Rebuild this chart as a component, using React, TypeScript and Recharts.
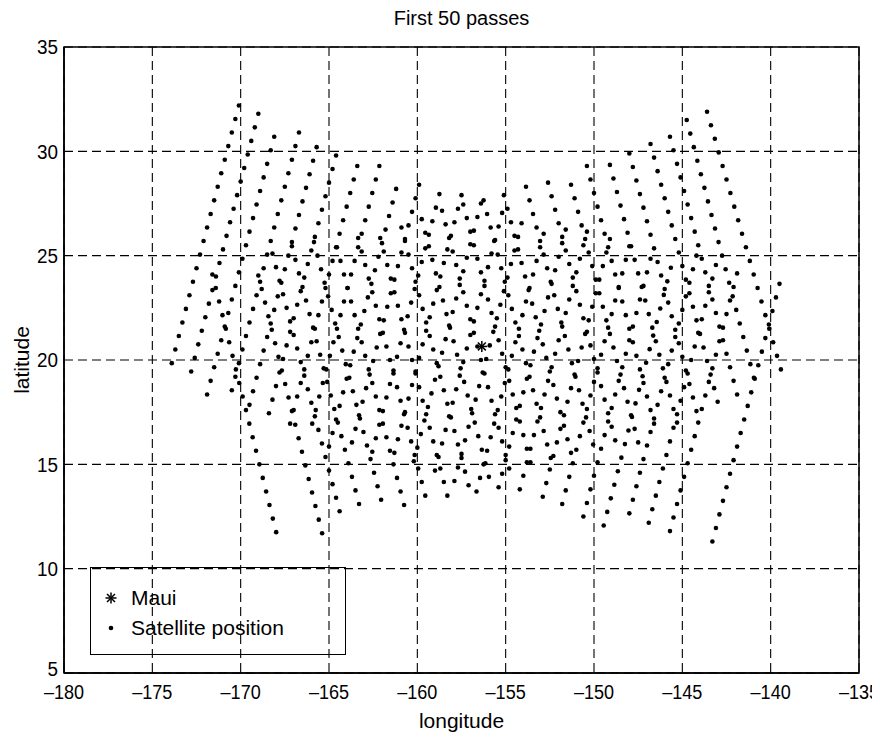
import { ScatterChart, Scatter, XAxis, YAxis, CartesianGrid, ReferenceArea } from 'recharts';

// Axis ticks
const xTicks = [-180, -175, -170, -165, -160, -155, -150, -145, -140, -135];
const yTicks = [5, 10, 15, 20, 25, 30, 35];

// Observer location
const maui = [{ lon: -156.35, lat: 20.65 }];

// Each pass: [longitudes, latitudes]
type Pass = [number[], number[]];

// Ascending passes ("/" tracks), listed from the top end down
const ascendingPasses: Pass[] = [
  [[-170.1, -170.3, -170.5, -170.7, -170.9, -171.1, -171.3, -171.5, -171.7, -171.9, -172.1, -172.3, -172.5, -172.7, -172.9, -173.1, -173.3, -173.5, -173.7, -173.9],
   [32.2, 31.55, 30.9, 30.25, 29.6, 28.95, 28.3, 27.65, 27.0, 26.35, 25.7, 25.05, 24.4, 23.75, 23.1, 22.45, 21.8, 21.15, 20.5, 19.85]],
  [[-169.0, -169.2, -169.4, -169.6, -169.8, -170.0, -170.2, -170.4, -170.6, -170.8, -171.0, -171.2, -171.4, -171.6, -171.8, -172.0, -172.2, -172.4, -172.6, -172.8],
   [31.8, 31.15, 30.5, 29.85, 29.2, 28.55, 27.9, 27.25, 26.6, 25.95, 25.3, 24.65, 24.0, 23.35, 22.7, 22.05, 21.4, 20.75, 20.1, 19.45]],
  [[-168.1, -168.3, -168.5, -168.7, -168.9, -169.1, -169.3, -169.5, -169.7, -169.9, -170.1, -170.3, -170.5, -170.7, -170.9, -171.1, -171.3, -171.5, -171.7, -171.9],
   [30.7, 30.05, 29.4, 28.75, 28.1, 27.45, 26.8, 26.15, 25.5, 24.85, 24.2, 23.55, 22.9, 22.25, 21.6, 20.95, 20.3, 19.65, 19.0, 18.35]],
  [[-166.7, -166.9, -167.1, -167.3, -167.5, -167.7, -167.9, -168.1, -168.3, -168.5, -168.7, -168.9, -169.1, -169.3, -169.5, -169.7, -169.9, -170.1, -170.3, -170.5],
   [30.9, 30.25, 29.6, 28.95, 28.3, 27.65, 27.0, 26.35, 25.7, 25.05, 24.4, 23.75, 23.1, 22.45, 21.8, 21.15, 20.5, 19.85, 19.2, 18.55]],
  [[-165.7, -165.9, -166.1, -166.3, -166.5, -166.7, -166.9, -167.1, -167.3, -167.5, -167.7, -167.9, -168.1, -168.3, -168.5, -168.7, -168.9, -169.1, -169.3, -169.5],
   [30.2, 29.55, 28.9, 28.25, 27.6, 26.95, 26.3, 25.65, 25.0, 24.35, 23.7, 23.05, 22.4, 21.75, 21.1, 20.45, 19.8, 19.15, 18.5, 17.85]],
  [[-164.6, -164.8, -165.0, -165.2, -165.4, -165.6, -165.8, -166.0, -166.2, -166.4, -166.6, -166.8, -167.0, -167.2, -167.4, -167.6, -167.8, -168.0, -168.2, -168.4],
   [29.8, 29.15, 28.5, 27.85, 27.2, 26.55, 25.9, 25.25, 24.6, 23.95, 23.3, 22.65, 22.0, 21.35, 20.7, 20.05, 19.4, 18.75, 18.1, 17.45]],
  [[-163.4, -163.6, -163.8, -164.0, -164.2, -164.4, -164.6, -164.8, -165.0, -165.2, -165.4, -165.6, -165.8, -166.0, -166.2, -166.4, -166.6, -166.8, -167.0, -167.2],
   [29.3, 28.65, 28.0, 27.35, 26.7, 26.05, 25.4, 24.75, 24.1, 23.45, 22.8, 22.15, 21.5, 20.85, 20.2, 19.55, 18.9, 18.25, 17.6, 16.95]],
  [[-162.15, -162.35, -162.55, -162.75, -162.95, -163.15, -163.35, -163.55, -163.75, -163.95, -164.15, -164.35, -164.55, -164.75, -164.95, -165.15, -165.35, -165.55, -165.75, -165.95],
   [29.3, 28.65, 28.0, 27.35, 26.7, 26.05, 25.4, 24.75, 24.1, 23.45, 22.8, 22.15, 21.5, 20.85, 20.2, 19.55, 18.9, 18.25, 17.6, 16.95]],
  [[-161.2, -161.4, -161.6, -161.8, -162.0, -162.2, -162.4, -162.6, -162.8, -163.0, -163.2, -163.4, -163.6, -163.8, -164.0, -164.2, -164.4, -164.6, -164.8, -165.0],
   [28.2, 27.55, 26.9, 26.25, 25.6, 24.95, 24.3, 23.65, 23.0, 22.35, 21.7, 21.05, 20.4, 19.75, 19.1, 18.45, 17.8, 17.15, 16.5, 15.85]],
  [[-159.9, -160.1, -160.3, -160.5, -160.7, -160.9, -161.1, -161.3, -161.5, -161.7, -161.9, -162.1, -162.3, -162.5, -162.7, -162.9, -163.1, -163.3, -163.5, -163.7],
   [28.4, 27.75, 27.1, 26.45, 25.8, 25.15, 24.5, 23.85, 23.2, 22.55, 21.9, 21.25, 20.6, 19.95, 19.3, 18.65, 18.0, 17.35, 16.7, 16.05]],
  [[-158.75, -158.95, -159.15, -159.35, -159.55, -159.75, -159.95, -160.15, -160.35, -160.55, -160.75, -160.95, -161.15, -161.35, -161.55, -161.75, -161.95, -162.15, -162.35, -162.55],
   [27.95, 27.3, 26.65, 26.0, 25.35, 24.7, 24.05, 23.4, 22.75, 22.1, 21.45, 20.8, 20.15, 19.5, 18.85, 18.2, 17.55, 16.9, 16.25, 15.6]],
  [[-157.5, -157.7, -157.9, -158.1, -158.3, -158.5, -158.7, -158.9, -159.1, -159.3, -159.5, -159.7, -159.9, -160.1, -160.3, -160.5, -160.7, -160.9, -161.1, -161.3],
   [27.9, 27.25, 26.6, 25.95, 25.3, 24.65, 24.0, 23.35, 22.7, 22.05, 21.4, 20.75, 20.1, 19.45, 18.8, 18.15, 17.5, 16.85, 16.2, 15.55]],
  [[-156.4, -156.6, -156.8, -157.0, -157.2, -157.4, -157.6, -157.8, -158.0, -158.2, -158.4, -158.6, -158.8, -159.0, -159.2, -159.4, -159.6, -159.8, -160.0, -160.2],
   [27.5, 26.85, 26.2, 25.55, 24.9, 24.25, 23.6, 22.95, 22.3, 21.65, 21.0, 20.35, 19.7, 19.05, 18.4, 17.75, 17.1, 16.45, 15.8, 15.15]],
  [[-155.2, -155.4, -155.6, -155.8, -156.0, -156.2, -156.4, -156.6, -156.8, -157.0, -157.2, -157.4, -157.6, -157.8, -158.0, -158.2, -158.4, -158.6, -158.8, -159.0],
   [27.05, 26.4, 25.75, 25.1, 24.45, 23.8, 23.15, 22.5, 21.85, 21.2, 20.55, 19.9, 19.25, 18.6, 17.95, 17.3, 16.65, 16.0, 15.35, 14.7]],
  [[-154.1, -154.3, -154.5, -154.7, -154.9, -155.1, -155.3, -155.5, -155.7, -155.9, -156.1, -156.3, -156.5, -156.7, -156.9, -157.1, -157.3, -157.5, -157.7, -157.9],
   [26.55, 25.9, 25.25, 24.6, 23.95, 23.3, 22.65, 22.0, 21.35, 20.7, 20.05, 19.4, 18.75, 18.1, 17.45, 16.8, 16.15, 15.5, 14.85, 14.2]],
  [[-152.85, -153.05, -153.25, -153.45, -153.65, -153.85, -154.05, -154.25, -154.45, -154.65, -154.85, -155.05, -155.25, -155.45, -155.65, -155.85, -156.05, -156.25, -156.45, -156.65],
   [26.05, 25.4, 24.75, 24.1, 23.45, 22.8, 22.15, 21.5, 20.85, 20.2, 19.55, 18.9, 18.25, 17.6, 16.95, 16.3, 15.65, 15.0, 14.35, 13.7]],
  [[-151.6, -151.8, -152.0, -152.2, -152.4, -152.6, -152.8, -153.0, -153.2, -153.4, -153.6, -153.8, -154.0, -154.2, -154.4, -154.6, -154.8, -155.0, -155.2, -155.4],
   [26.25, 25.6, 24.95, 24.3, 23.65, 23.0, 22.35, 21.7, 21.05, 20.4, 19.75, 19.1, 18.45, 17.8, 17.15, 16.5, 15.85, 15.2, 14.55, 13.9]],
  [[-150.4, -150.6, -150.8, -151.0, -151.2, -151.4, -151.6, -151.8, -152.0, -152.2, -152.4, -152.6, -152.8, -153.0, -153.2, -153.4, -153.6, -153.8, -154.0, -154.2],
   [26.15, 25.5, 24.85, 24.2, 23.55, 22.9, 22.25, 21.6, 20.95, 20.3, 19.65, 19.0, 18.35, 17.7, 17.05, 16.4, 15.75, 15.1, 14.45, 13.8]],
  [[-149.1, -149.3, -149.5, -149.7, -149.9, -150.1, -150.3, -150.5, -150.7, -150.9, -151.1, -151.3, -151.5, -151.7, -151.9, -152.1, -152.3, -152.5, -152.7, -152.9],
   [25.8, 25.15, 24.5, 23.85, 23.2, 22.55, 21.9, 21.25, 20.6, 19.95, 19.3, 18.65, 18.0, 17.35, 16.7, 16.05, 15.4, 14.75, 14.1, 13.45]],
  [[-148.0, -148.2, -148.4, -148.6, -148.8, -149.0, -149.2, -149.4, -149.6, -149.8, -150.0, -150.2, -150.4, -150.6, -150.8, -151.0, -151.2, -151.4, -151.6, -151.8],
   [25.45, 24.8, 24.15, 23.5, 22.85, 22.2, 21.55, 20.9, 20.25, 19.6, 18.95, 18.3, 17.65, 17.0, 16.35, 15.7, 15.05, 14.4, 13.75, 13.1]],
  [[-146.8, -147.0, -147.2, -147.4, -147.6, -147.8, -148.0, -148.2, -148.4, -148.6, -148.8, -149.0, -149.2, -149.4, -149.6, -149.8, -150.0, -150.2, -150.4, -150.6],
   [24.85, 24.2, 23.55, 22.9, 22.25, 21.6, 20.95, 20.3, 19.65, 19.0, 18.35, 17.7, 17.05, 16.4, 15.75, 15.1, 14.45, 13.8, 13.15, 12.5]],
  [[-145.65, -145.85, -146.05, -146.25, -146.45, -146.65, -146.85, -147.05, -147.25, -147.45, -147.65, -147.85, -148.05, -148.25, -148.45, -148.65, -148.85, -149.05, -149.25, -149.45],
   [24.42, 23.77, 23.12, 22.47, 21.82, 21.17, 20.52, 19.87, 19.22, 18.57, 17.92, 17.27, 16.62, 15.97, 15.32, 14.67, 14.02, 13.37, 12.72, 12.07]],
  [[-144.2, -144.4, -144.6, -144.8, -145.0, -145.2, -145.4, -145.6, -145.8, -146.0, -146.2, -146.4, -146.6, -146.8, -147.0, -147.2, -147.4, -147.6, -147.8, -148.0],
   [25.0, 24.35, 23.7, 23.05, 22.4, 21.75, 21.1, 20.45, 19.8, 19.15, 18.5, 17.85, 17.2, 16.55, 15.9, 15.25, 14.6, 13.95, 13.3, 12.65]],
  [[-143.1, -143.3, -143.5, -143.7, -143.9, -144.1, -144.3, -144.5, -144.7, -144.9, -145.1, -145.3, -145.5, -145.7, -145.9, -146.1, -146.3, -146.5, -146.7, -146.9],
   [24.55, 23.9, 23.25, 22.6, 21.95, 21.3, 20.65, 20.0, 19.35, 18.7, 18.05, 17.4, 16.75, 16.1, 15.45, 14.8, 14.15, 13.5, 12.85, 12.2]],
  [[-141.9, -142.1, -142.3, -142.5, -142.7, -142.9, -143.1, -143.3, -143.5, -143.7, -143.9, -144.1, -144.3, -144.5, -144.7, -144.9, -145.1, -145.3, -145.5, -145.7],
   [24.15, 23.5, 22.85, 22.2, 21.55, 20.9, 20.25, 19.6, 18.95, 18.3, 17.65, 17.0, 16.35, 15.7, 15.05, 14.4, 13.75, 13.1, 12.45, 11.8]],
  [[-139.5, -139.7, -139.9, -140.1, -140.3, -140.5, -140.7, -140.9, -141.1, -141.3, -141.5, -141.7, -141.9, -142.1, -142.3, -142.5, -142.7, -142.9, -143.1, -143.3],
   [23.65, 23.0, 22.35, 21.7, 21.05, 20.4, 19.75, 19.1, 18.45, 17.8, 17.15, 16.5, 15.85, 15.2, 14.55, 13.9, 13.25, 12.6, 11.95, 11.3]],
];

// Descending passes ("\" tracks), listed from the top end down
const descendingPasses: Pass[] = [
  [[-143.6, -143.38, -143.16, -142.94, -142.72, -142.5, -142.28, -142.06, -141.84, -141.62, -141.4, -141.18, -140.96, -140.74, -140.52, -140.3, -140.08, -139.86, -139.64, -139.42],
   [31.9, 31.25, 30.6, 29.95, 29.3, 28.65, 28.0, 27.35, 26.7, 26.05, 25.4, 24.75, 24.1, 23.45, 22.8, 22.15, 21.5, 20.85, 20.2, 19.55]],
  [[-144.75, -144.55, -144.35, -144.15, -143.95, -143.75, -143.55, -143.35, -143.15, -142.95, -142.75, -142.55, -142.35, -142.15, -141.95, -141.75, -141.55, -141.35, -141.15, -140.95],
   [31.5, 30.85, 30.2, 29.55, 28.9, 28.25, 27.6, 26.95, 26.3, 25.65, 25.0, 24.35, 23.7, 23.05, 22.4, 21.75, 21.1, 20.45, 19.8, 19.15]],
  [[-145.7, -145.5, -145.3, -145.1, -144.9, -144.7, -144.5, -144.3, -144.1, -143.9, -143.7, -143.5, -143.3, -143.1, -142.9, -142.7, -142.5, -142.3, -142.1, -141.9],
   [30.7, 30.05, 29.4, 28.75, 28.1, 27.45, 26.8, 26.15, 25.5, 24.85, 24.2, 23.55, 22.9, 22.25, 21.6, 20.95, 20.3, 19.65, 19.0, 18.35]],
  [[-146.8, -146.6, -146.4, -146.2, -146.0, -145.8, -145.6, -145.4, -145.2, -145.0, -144.8, -144.6, -144.4, -144.2, -144.0, -143.8, -143.6, -143.4, -143.2, -143.0],
   [30.35, 29.7, 29.05, 28.4, 27.75, 27.1, 26.45, 25.8, 25.15, 24.5, 23.85, 23.2, 22.55, 21.9, 21.25, 20.6, 19.95, 19.3, 18.65, 18.0]],
  [[-148.0, -147.8, -147.6, -147.4, -147.2, -147.0, -146.8, -146.6, -146.4, -146.2, -146.0, -145.8, -145.6, -145.4, -145.2, -145.0, -144.8, -144.6, -144.4, -144.2],
   [29.9, 29.25, 28.6, 27.95, 27.3, 26.65, 26.0, 25.35, 24.7, 24.05, 23.4, 22.75, 22.1, 21.45, 20.8, 20.15, 19.5, 18.85, 18.2, 17.55]],
  [[-149.1, -148.9, -148.7, -148.5, -148.3, -148.1, -147.9, -147.7, -147.5, -147.3, -147.1, -146.9, -146.7, -146.5, -146.3, -146.1, -145.9, -145.7, -145.5, -145.3],
   [29.35, 28.7, 28.05, 27.4, 26.75, 26.1, 25.45, 24.8, 24.15, 23.5, 22.85, 22.2, 21.55, 20.9, 20.25, 19.6, 18.95, 18.3, 17.65, 17.0]],
  [[-150.4, -150.2, -150.0, -149.8, -149.6, -149.4, -149.2, -149.0, -148.8, -148.6, -148.4, -148.2, -148.0, -147.8, -147.6, -147.4, -147.2, -147.0, -146.8, -146.6],
   [29.3, 28.65, 28.0, 27.35, 26.7, 26.05, 25.4, 24.75, 24.1, 23.45, 22.8, 22.15, 21.5, 20.85, 20.2, 19.55, 18.9, 18.25, 17.6, 16.95]],
  [[-151.3, -151.1, -150.9, -150.7, -150.5, -150.3, -150.1, -149.9, -149.7, -149.5, -149.3, -149.1, -148.9, -148.7, -148.5, -148.3, -148.1, -147.9, -147.7, -147.5],
   [28.4, 27.75, 27.1, 26.45, 25.8, 25.15, 24.5, 23.85, 23.2, 22.55, 21.9, 21.25, 20.6, 19.95, 19.3, 18.65, 18.0, 17.35, 16.7, 16.05]],
  [[-152.6, -152.4, -152.2, -152.0, -151.8, -151.6, -151.4, -151.2, -151.0, -150.8, -150.6, -150.4, -150.2, -150.0, -149.8, -149.6, -149.4, -149.2, -149.0, -148.8],
   [28.5, 27.85, 27.2, 26.55, 25.9, 25.25, 24.6, 23.95, 23.3, 22.65, 22.0, 21.35, 20.7, 20.05, 19.4, 18.75, 18.1, 17.45, 16.8, 16.15]],
  [[-153.85, -153.65, -153.45, -153.25, -153.05, -152.85, -152.65, -152.45, -152.25, -152.05, -151.85, -151.65, -151.45, -151.25, -151.05, -150.85, -150.65, -150.45, -150.25, -150.05],
   [28.3, 27.65, 27.0, 26.35, 25.7, 25.05, 24.4, 23.75, 23.1, 22.45, 21.8, 21.15, 20.5, 19.85, 19.2, 18.55, 17.9, 17.25, 16.6, 15.95]],
  [[-155.1, -154.9, -154.7, -154.5, -154.3, -154.1, -153.9, -153.7, -153.5, -153.3, -153.1, -152.9, -152.7, -152.5, -152.3, -152.1, -151.9, -151.7, -151.5, -151.3],
   [27.9, 27.25, 26.6, 25.95, 25.3, 24.65, 24.0, 23.35, 22.7, 22.05, 21.4, 20.75, 20.1, 19.45, 18.8, 18.15, 17.5, 16.85, 16.2, 15.55]],
  [[-156.25, -156.05, -155.85, -155.65, -155.45, -155.25, -155.05, -154.85, -154.65, -154.45, -154.25, -154.05, -153.85, -153.65, -153.45, -153.25, -153.05, -152.85, -152.65, -152.45],
   [27.65, 27.0, 26.35, 25.7, 25.05, 24.4, 23.75, 23.1, 22.45, 21.8, 21.15, 20.5, 19.85, 19.2, 18.55, 17.9, 17.25, 16.6, 15.95, 15.3]],
  [[-157.4, -157.2, -157.0, -156.8, -156.6, -156.4, -156.2, -156.0, -155.8, -155.6, -155.4, -155.2, -155.0, -154.8, -154.6, -154.4, -154.2, -154.0, -153.8, -153.6],
   [27.45, 26.8, 26.15, 25.5, 24.85, 24.2, 23.55, 22.9, 22.25, 21.6, 20.95, 20.3, 19.65, 19.0, 18.35, 17.7, 17.05, 16.4, 15.75, 15.1]],
  [[-158.6, -158.4, -158.2, -158.0, -157.8, -157.6, -157.4, -157.2, -157.0, -156.8, -156.6, -156.4, -156.2, -156.0, -155.8, -155.6, -155.4, -155.2, -155.0, -154.8],
   [27.15, 26.5, 25.85, 25.2, 24.55, 23.9, 23.25, 22.6, 21.95, 21.3, 20.65, 20.0, 19.35, 18.7, 18.05, 17.4, 16.75, 16.1, 15.45, 14.8]],
  [[-159.75, -159.55, -159.35, -159.15, -158.95, -158.75, -158.55, -158.35, -158.15, -157.95, -157.75, -157.55, -157.35, -157.15, -156.95, -156.75, -156.55, -156.35, -156.15, -155.95],
   [26.75, 26.1, 25.45, 24.8, 24.15, 23.5, 22.85, 22.2, 21.55, 20.9, 20.25, 19.6, 18.95, 18.3, 17.65, 17.0, 16.35, 15.7, 15.05, 14.4]],
  [[-160.9, -160.7, -160.5, -160.3, -160.1, -159.9, -159.7, -159.5, -159.3, -159.1, -158.9, -158.7, -158.5, -158.3, -158.1, -157.9, -157.7, -157.5, -157.3, -157.1],
   [26.35, 25.7, 25.05, 24.4, 23.75, 23.1, 22.45, 21.8, 21.15, 20.5, 19.85, 19.2, 18.55, 17.9, 17.25, 16.6, 15.95, 15.3, 14.65, 14.0]],
  [[-162.1, -161.9, -161.7, -161.5, -161.3, -161.1, -160.9, -160.7, -160.5, -160.3, -160.1, -159.9, -159.7, -159.5, -159.3, -159.1, -158.9, -158.7, -158.5, -158.3],
   [25.85, 25.2, 24.55, 23.9, 23.25, 22.6, 21.95, 21.3, 20.65, 20.0, 19.35, 18.7, 18.05, 17.4, 16.75, 16.1, 15.45, 14.8, 14.15, 13.5]],
  [[-163.35, -163.15, -162.95, -162.75, -162.55, -162.35, -162.15, -161.95, -161.75, -161.55, -161.35, -161.15, -160.95, -160.75, -160.55, -160.35, -160.15, -159.95, -159.75, -159.55],
   [25.85, 25.2, 24.55, 23.9, 23.25, 22.6, 21.95, 21.3, 20.65, 20.0, 19.35, 18.7, 18.05, 17.4, 16.75, 16.1, 15.45, 14.8, 14.15, 13.5]],
  [[-164.55, -164.35, -164.15, -163.95, -163.75, -163.55, -163.35, -163.15, -162.95, -162.75, -162.55, -162.35, -162.15, -161.95, -161.75, -161.55, -161.35, -161.15, -160.95, -160.75],
   [25.4, 24.75, 24.1, 23.45, 22.8, 22.15, 21.5, 20.85, 20.2, 19.55, 18.9, 18.25, 17.6, 16.95, 16.3, 15.65, 15.0, 14.35, 13.7, 13.05]],
  [[-165.85, -165.65, -165.45, -165.25, -165.05, -164.85, -164.65, -164.45, -164.25, -164.05, -163.85, -163.65, -163.45, -163.25, -163.05, -162.85, -162.65, -162.45, -162.25, -162.05],
   [25.65, 25.0, 24.35, 23.7, 23.05, 22.4, 21.75, 21.1, 20.45, 19.8, 19.15, 18.5, 17.85, 17.2, 16.55, 15.9, 15.25, 14.6, 13.95, 13.3]],
  [[-167.1, -166.9, -166.7, -166.5, -166.3, -166.1, -165.9, -165.7, -165.5, -165.3, -165.1, -164.9, -164.7, -164.5, -164.3, -164.1, -163.9, -163.7, -163.5, -163.3],
   [25.45, 24.8, 24.15, 23.5, 22.85, 22.2, 21.55, 20.9, 20.25, 19.6, 18.95, 18.3, 17.65, 17.0, 16.35, 15.7, 15.05, 14.4, 13.75, 13.1]],
  [[-168.2, -168.0, -167.8, -167.6, -167.4, -167.2, -167.0, -166.8, -166.6, -166.4, -166.2, -166.0, -165.8, -165.6, -165.4, -165.2, -165.0, -164.8, -164.6, -164.4],
   [25.1, 24.45, 23.8, 23.15, 22.5, 21.85, 21.2, 20.55, 19.9, 19.25, 18.6, 17.95, 17.3, 16.65, 16.0, 15.35, 14.7, 14.05, 13.4, 12.75]],
  [[-169.0, -168.81, -168.62, -168.43, -168.24, -168.05, -167.86, -167.67, -167.48, -167.29, -167.1, -166.91, -166.72, -166.53, -166.34, -166.15, -165.96, -165.77, -165.58, -165.39],
   [24.05, 23.4, 22.75, 22.1, 21.45, 20.8, 20.15, 19.5, 18.85, 18.2, 17.55, 16.9, 16.25, 15.6, 14.95, 14.3, 13.65, 13.0, 12.35, 11.7]],
  [[-171.6, -171.41, -171.22, -171.03, -170.84, -170.65, -170.46, -170.27, -170.08, -169.89, -169.7, -169.51, -169.32, -169.13, -168.94, -168.75, -168.56, -168.37, -168.18, -167.99],
   [24.1, 23.45, 22.8, 22.15, 21.5, 20.85, 20.2, 19.55, 18.9, 18.25, 17.6, 16.95, 16.3, 15.65, 15.0, 14.35, 13.7, 13.05, 12.4, 11.75]],
];

const satellitePoints = [...ascendingPasses, ...descendingPasses].flatMap(([lons, lats]) =>
  lons.map((lon, i) => ({ lon, lat: lats[i] }))
);

const FONT = '"Liberation Sans", Arial, Helvetica, sans-serif';

// Small filled dot, like MATLAB's '.' marker
function SatDot(props: any) {
  const { cx, cy } = props;
  if (cx == null || cy == null) return null;
  return <circle cx={cx} cy={cy} r={2.3} fill="#000" />;
}

// '*' marker
function Asterisk({ cx, cy, s = 5.5 }: { cx: number; cy: number; s?: number }) {
  const d = s * 0.72;
  return (
    <g stroke="#000" strokeWidth={1.5}>
      <line x1={cx - s} y1={cy} x2={cx + s} y2={cy} />
      <line x1={cx} y1={cy - s} x2={cx} y2={cy + s} />
      <line x1={cx - d} y1={cy - d} x2={cx + d} y2={cy + d} />
      <line x1={cx - d} y1={cy + d} x2={cx + d} y2={cy - d} />
    </g>
  );
}

function MauiMark(props: any) {
  const { cx, cy } = props;
  if (cx == null || cy == null) return null;
  return <Asterisk cx={cx} cy={cy} />;
}

const fmtTick = (v: number) => (v < 0 ? `\u2013${Math.abs(v)}` : `${v}`);

// Narrow, tall tick labels like the printed figure
function XTick(props: any) {
  const { x, y, payload } = props;
  return (
    <text
      transform={`translate(${x},${y}) scale(0.86,1)`}
      textAnchor="middle"
      dy="0.71em"
      fontSize={21}
      fontFamily={FONT}
      fill="#000"
    >
      {fmtTick(payload.value)}
    </text>
  );
}

function YTick(props: any) {
  const { x, y, payload } = props;
  const lift = payload.value === 5 ? -4 : 0;
  return (
    <text
      transform={`translate(${x},${y + lift}) scale(0.9,1)`}
      textAnchor="end"
      dy="0.355em"
      fontSize={21}
      fontFamily={FONT}
      fill="#000"
    >
      {payload.value}
    </text>
  );
}

export default function App() {
  return (
    <div style={{ position: 'relative', width: 872, height: 725, background: '#fff' }}>
      <ScatterChart width={872} height={725} margin={{ top: 39, right: 21, bottom: 30, left: 6 }}>
        <CartesianGrid stroke="#000" strokeWidth={1.1} strokeDasharray="9 5" />
        <XAxis
          type="number"
          dataKey="lon"
          domain={[-180, -135]}
          ticks={xTicks}
          tick={XTick}
          tickLine={false}
          tickSize={0}
          tickMargin={11}
          height={30}
          axisLine={{ stroke: '#000', strokeWidth: 1.5 }}
          allowDataOverflow
        />
        <YAxis
          type="number"
          dataKey="lat"
          domain={[5, 35]}
          ticks={yTicks}
          tick={YTick}
          tickLine={false}
          tickSize={0}
          tickMargin={6}
          width={50}
          axisLine={{ stroke: '#000', strokeWidth: 1.5 }}
          allowDataOverflow
        />
        <ReferenceArea x1={-180} x2={-135} y1={5} y2={35} fill="none" stroke="#000" strokeWidth={1.5} ifOverflow="visible" />
        <Scatter data={satellitePoints} shape={SatDot} isAnimationActive={false} />
        <Scatter data={maui} shape={MauiMark} isAnimationActive={false} />
      </ScatterChart>

      {/* title */}
      <div style={{ position: 'absolute', left: 56, width: 795, top: -2, textAlign: 'center', fontFamily: FONT, fontSize: 20, lineHeight: '24px' }}>
        First 50 passes
      </div>
      {/* x label */}
      <div style={{ position: 'absolute', left: 56, width: 795, top: 700, textAlign: 'center', fontFamily: FONT, fontSize: 21, lineHeight: '26px' }}>
        longitude
      </div>
      {/* y label */}
      <div
        style={{
          position: 'absolute', left: 14, top: 352, width: 120, marginLeft: -60, marginTop: -13,
          textAlign: 'center', fontFamily: FONT, fontSize: 21, lineHeight: '26px', transform: 'rotate(-90deg)',
        }}
      >
        latitude
      </div>

      {/* legend */}
      <div style={{ position: 'absolute', left: 82, top: 559, width: 256, height: 88, border: '1.5px solid #000', boxSizing: 'border-box' }}>
        <svg width={40} height={88} style={{ position: 'absolute', left: 0, top: 0 }}>
          <Asterisk cx={20} cy={30} />
          <circle cx={20} cy={60} r={2.3} fill="#000" />
        </svg>
        <div style={{ position: 'absolute', left: 40, top: 17, fontFamily: FONT, fontSize: 21, lineHeight: '26px' }}>Maui</div>
        <div style={{ position: 'absolute', left: 40, top: 47, fontFamily: FONT, fontSize: 21, lineHeight: '26px' }}>Satellite position</div>
      </div>
    </div>
  );
}
